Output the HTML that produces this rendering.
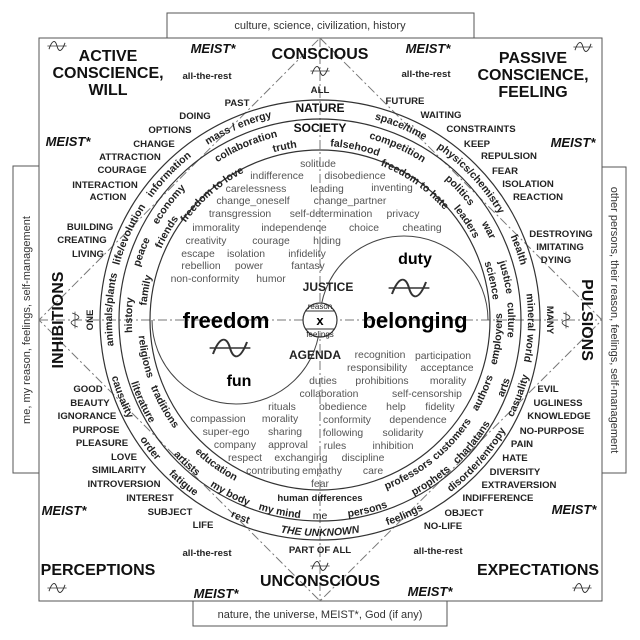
<!DOCTYPE html>
<html><head><meta charset="utf-8"><style>
html,body{margin:0;padding:0;background:#fff}
svg{display:block}
text{font-family:"Liberation Sans",Arial,sans-serif}
.g{font-size:10.4px;fill:#555;text-anchor:middle}
.r{font-size:10.5px;font-weight:bold;fill:#222;text-anchor:middle}
.c{font-size:9.6px;font-weight:bold;fill:#222;text-anchor:middle}
.h{font-size:16px;font-weight:bold;fill:#111;text-anchor:middle}
.m{font-size:13px;font-weight:bold;font-style:italic;fill:#111;text-anchor:middle}
.t{font-size:11px;fill:#333;text-anchor:middle}
.d{stroke:#777;stroke-width:1;stroke-dasharray:9 3 2 3;fill:none}
</style></head><body>
<svg width="640" height="640" viewBox="0 0 640 640" xmlns="http://www.w3.org/2000/svg">
<defs>
<path id="cw208" d="M320 528 A208 208 0 1 1 320 112 A208 208 0 1 1 320 528"/>
<path id="cw188" d="M320 508 A188 188 0 1 1 320 132 A188 188 0 1 1 320 508"/>
<path id="cw174" d="M320 494 A174 174 0 1 1 320 146 A174 174 0 1 1 320 494"/>
<path id="cw166" d="M320 486 A166 166 0 1 1 320 154 A166 166 0 1 1 320 486"/>
<path id="ccw216" d="M320 104 A216 216 0 1 0 320 536 A216 216 0 1 0 320 104"/>
<path id="ccw199" d="M320 121 A199 199 0 1 0 320 519 A199 199 0 1 0 320 121"/>
<path id="ccw182" d="M320 138 A182 182 0 1 0 320 502 A182 182 0 1 0 320 138"/>
<g id="wv"><path d="M-10 4 C-6 -8,-2 -8,0 0 C2 8,6 8,10 -4" fill="none" stroke="#333" stroke-width="1.2"/><line x1="-12" y1="0" x2="12" y2="0" stroke="#333" stroke-width="1"/></g>
</defs>
<rect x="167" y="13" width="307" height="25" fill="#fff" stroke="#555"/>
<rect x="193" y="601" width="254" height="25" fill="#fff" stroke="#555"/>
<rect x="13" y="166" width="26" height="307" fill="#fff" stroke="#555"/>
<rect x="602" y="167" width="24" height="306" fill="#fff" stroke="#555"/>
<rect x="39" y="38" width="563" height="563" fill="#fff" stroke="#555"/>
<text class="t" x="320" y="29">culture, science, civilization, history</text>
<text class="t" x="320" y="618">nature, the universe, MEIST*, God (if any)</text>
<text class="t" transform="translate(30,320) rotate(-90)">me, my reason, feelings, self-management</text>
<text class="t" transform="translate(611,320) rotate(90)">other persons, their reason, feelings, self-management</text>
<path class="d" d="M39 320 H602 M320 38 V601 M320 38 L602 320 L320 601 L39 320 Z"/>
<circle cx="320" cy="320" r="220" fill="none" stroke="#333" stroke-width="1.2"/>
<circle cx="320" cy="320" r="201" fill="none" stroke="#333" stroke-width="1.2"/>
<circle cx="320" cy="320" r="170" fill="none" stroke="#333" stroke-width="1.2"/>
<path d="M320 320 A84 84 0 0 1 488 320" fill="none" stroke="#444" stroke-width="1"/>
<path d="M152 320 A84 84 0 0 0 320 320" fill="none" stroke="#444" stroke-width="1"/>
<circle cx="320" cy="320" r="17" fill="#fff" stroke="#333" stroke-width="1.2"/>
<line x1="305" y1="311" x2="335" y2="311" stroke="#333"/>
<line x1="305" y1="329" x2="335" y2="329" stroke="#333"/>
<text x="320" y="309" style="font-size:8px;fill:#222;text-anchor:middle">reason</text>
<text x="320" y="337" style="font-size:8px;fill:#222;text-anchor:middle">feelings</text>
<text x="320" y="325" style="font-size:13px;font-weight:bold;text-anchor:middle">x</text>
<text class="h" x="108" y="61">ACTIVE</text><text class="h" x="108" y="78">CONSCIENCE,</text><text class="h" x="108" y="95">WILL</text>
<text class="h" x="533" y="63">PASSIVE</text><text class="h" x="533" y="80">CONSCIENCE,</text><text class="h" x="533" y="97">FEELING</text>
<text class="h" x="98" y="575">PERCEPTIONS</text>
<text class="h" x="538" y="575">EXPECTATIONS</text>
<text class="h" x="320" y="59">CONSCIOUS</text>
<text class="h" x="320" y="586">UNCONSCIOUS</text>
<text class="h" transform="translate(63,320) rotate(-90)">INHIBITIONS</text>
<text class="h" transform="translate(582,320) rotate(90)">PULSIONS</text>
<text class="c" transform="translate(93,320) rotate(-90)">ONE</text>
<text class="c" transform="translate(547,320) rotate(90)">MANY</text>
<use href="#wv" transform="translate(57,46) scale(0.8)"/>
<use href="#wv" transform="translate(583,47) scale(0.8)"/>
<use href="#wv" transform="translate(57,588) scale(0.8)"/>
<use href="#wv" transform="translate(582,588) scale(0.8)"/>
<use href="#wv" transform="translate(320,71) scale(0.8)"/>
<use href="#wv" transform="translate(320,566) scale(0.8)"/>
<use href="#wv" transform="translate(75,320) rotate(-90) scale(0.7)"/>
<use href="#wv" transform="translate(566,320) rotate(90) scale(0.7)"/>
<text class="m" x="213" y="53">MEIST*</text><text class="m" x="428" y="53">MEIST*</text>
<text class="m" x="68" y="146">MEIST*</text><text class="m" x="573" y="147">MEIST*</text>
<text class="m" x="64" y="515">MEIST*</text><text class="m" x="574" y="514">MEIST*</text>
<text class="m" x="216" y="598">MEIST*</text><text class="m" x="430" y="596">MEIST*</text>
<text class="c" x="207" y="79">all-the-rest</text><text class="c" x="426" y="77">all-the-rest</text>
<text class="c" x="207" y="556">all-the-rest</text><text class="c" x="438" y="554">all-the-rest</text>
<text class="c" x="320" y="93">ALL</text>
<text class="c" x="320" y="553">PART OF ALL</text>
<text class="h" style="font-size:12px" x="320" y="112">NATURE</text>
<text class="h" style="font-size:12px" x="320" y="132">SOCIETY</text>
<text class="c" x="320" y="501">human differences</text>
<text class="r" style="font-weight:normal" x="320" y="519">me</text>
<g class="c">
<text x="237" y="106">PAST</text><text x="195" y="119">DOING</text><text x="170" y="133">OPTIONS</text>
<text x="154" y="147">CHANGE</text><text x="130" y="160">ATTRACTION</text><text x="122" y="173">COURAGE</text>
<text x="105" y="188">INTERACTION</text><text x="108" y="200">ACTION</text>
<text x="90" y="230">BUILDING</text><text x="82" y="243">CREATING</text><text x="88" y="257">LIVING</text>
<text x="405" y="104">FUTURE</text><text x="441" y="118">WAITING</text><text x="481" y="132">CONSTRAINTS</text>
<text x="477" y="147">KEEP</text><text x="509" y="159">REPULSION</text><text x="505" y="174">FEAR</text>
<text x="528" y="187">ISOLATION</text><text x="538" y="200">REACTION</text>
<text x="561" y="237">DESTROYING</text><text x="560" y="250">IMITATING</text><text x="556" y="263">DYING</text>
<text x="88" y="392">GOOD</text><text x="90" y="406">BEAUTY</text><text x="87" y="419">IGNORANCE</text>
<text x="96" y="433">PURPOSE</text><text x="102" y="446">PLEASURE</text><text x="124" y="460">LOVE</text>
<text x="119" y="473">SIMILARITY</text><text x="124" y="487">INTROVERSION</text><text x="150" y="501">INTEREST</text>
<text x="170" y="515">SUBJECT</text><text x="203" y="528">LIFE</text>
<text x="548" y="392">EVIL</text><text x="558" y="406">UGLINESS</text><text x="559" y="419">KNOWLEDGE</text>
<text x="552" y="434">NO-PURPOSE</text><text x="522" y="447">PAIN</text><text x="515" y="461">HATE</text>
<text x="515" y="475">DIVERSITY</text><text x="519" y="488">EXTRAVERSION</text><text x="498" y="501">INDIFFERENCE</text>
<text x="464" y="516">OBJECT</text><text x="443" y="529">NO-LIFE</text>
</g>
<g class="r">
<text><textPath href="#cw208" startOffset="43.6%">mass / energy</textPath></text>
<text><textPath href="#cw208" startOffset="56.3%">space/time</textPath></text>
<text><textPath href="#cw208" startOffset="63%">physics/chemistry</textPath></text>
<text><textPath href="#cw208" startOffset="69.6%">health</textPath></text>
<text><textPath href="#cw208" startOffset="75.6%">mineral world</textPath></text>
<text><textPath href="#cw208" startOffset="25.8%">animals/plants</textPath></text>
<text><textPath href="#cw208" startOffset="31.7%">life/evolution</textPath></text>
<text><textPath href="#cw208" startOffset="37.2%">information</textPath></text>
<text><textPath href="#cw188" startOffset="43.6%">collaboration</textPath></text>
<text><textPath href="#cw188" startOffset="56.7%">competition</textPath></text>
<text><textPath href="#cw188" startOffset="63.1%">politics</textPath></text>
<text><textPath href="#cw188" startOffset="67.2%">war</textPath></text>
<text><textPath href="#cw188" startOffset="71.4%">justice</textPath></text>
<text><textPath href="#cw188" startOffset="75%">culture</textPath></text>
<text><textPath href="#cw188" startOffset="25.4%">history</textPath></text>
<text><textPath href="#cw188" startOffset="30.8%">peace</textPath></text>
<text><textPath href="#cw188" startOffset="35.4%">economy</textPath></text>
<text><textPath href="#cw174" startOffset="46.8%">truth</textPath></text>
<text><textPath href="#cw174" startOffset="53.2%">falsehood</textPath></text>
<text><textPath href="#cw174" startOffset="65.6%">leaders</textPath></text>
<text><textPath href="#cw174" startOffset="71.4%">science</textPath></text>
<text><textPath href="#cw174" startOffset="33.3%">friends</textPath></text>
<text><textPath href="#cw174" startOffset="27.7%">family</textPath></text>
<text><textPath href="#cw166" startOffset="38.7%">freedom to love</textPath></text>
<text><textPath href="#cw166" startOffset="59.7%">freedom to hate</textPath></text>
<text><textPath href="#ccw216" startOffset="69.2%">casuality</textPath></text>
<text><textPath href="#ccw216" startOffset="63.4%">disorder/entropy</textPath></text>
<text><textPath href="#ccw216" startOffset="56.5%">feelings</textPath></text>
<text style="font-style:italic"><textPath href="#ccw216" startOffset="50%">THE UNKNOWN</textPath></text>
<text><textPath href="#ccw216" startOffset="43.9%">rest</textPath></text>
<text><textPath href="#ccw216" startOffset="38.9%">fatigue</textPath></text>
<text><textPath href="#ccw216" startOffset="35.3%">order</textPath></text>
<text><textPath href="#ccw216" startOffset="30.9%">causality</textPath></text>
<text><textPath href="#ccw199" startOffset="69.4%">arts</textPath></text>
<text><textPath href="#ccw199" startOffset="64.2%">charlatans</textPath></text>
<text><textPath href="#ccw199" startOffset="59.6%">prophets</textPath></text>
<text><textPath href="#ccw199" startOffset="53.9%">persons</textPath></text>
<text><textPath href="#ccw199" startOffset="46.7%">my mind</textPath></text>
<text><textPath href="#ccw199" startOffset="42.4%">my body</textPath></text>
<text><textPath href="#ccw199" startOffset="38.1%">artists</textPath></text>
<text><textPath href="#ccw199" startOffset="31.9%">literature</textPath></text>
<text><textPath href="#ccw182" startOffset="73.3%">employers</textPath></text>
<text><textPath href="#ccw182" startOffset="68.3%">authors</textPath></text>
<text><textPath href="#ccw182" startOffset="63.3%">customers</textPath></text>
<text><textPath href="#ccw182" startOffset="58.3%">professors</textPath></text>
<text><textPath href="#ccw182" startOffset="40.1%">education</textPath></text>
<text><textPath href="#ccw182" startOffset="33.1%">traditions</textPath></text>
<text><textPath href="#ccw182" startOffset="28.3%">religions</textPath></text>
</g>
<g class="g">
<text x="318" y="167">solitude</text>
<text x="277" y="179">indifference</text><text x="355" y="179">disobedience</text>
<text x="256" y="192">carelessness</text><text x="327" y="192">leading</text><text x="392" y="191">inventing</text>
<text x="253" y="204">change_oneself</text><text x="350" y="204">change_partner</text>
<text x="240" y="217">transgression</text><text x="331" y="217">self-determination</text><text x="403" y="217">privacy</text>
<text x="216" y="231">immorality</text><text x="294" y="231">independence</text><text x="364" y="231">choice</text><text x="422" y="231">cheating</text>
<text x="206" y="244">creativity</text><text x="271" y="244">courage</text><text x="327" y="244">hiding</text>
<text x="198" y="257">escape</text><text x="246" y="257">isolation</text><text x="307" y="257">infidelity</text>
<text x="201" y="269">rebellion</text><text x="249" y="269">power</text><text x="308" y="269">fantasy</text>
<text x="205" y="282">non-conformity</text><text x="271" y="282">humor</text>
<text x="380" y="358">recognition</text><text x="443" y="359">participation</text>
<text x="377" y="371">responsibility</text><text x="447" y="371">acceptance</text>
<text x="323" y="384">duties</text><text x="382" y="384">prohibitions</text><text x="448" y="384">morality</text>
<text x="329" y="397">collaboration</text><text x="427" y="397">self-censorship</text>
<text x="282" y="410">rituals</text><text x="343" y="410">obedience</text><text x="396" y="410">help</text><text x="440" y="410">fidelity</text>
<text x="218" y="422">compassion</text><text x="280" y="422">morality</text><text x="347" y="423">conformity</text><text x="418" y="423">dependence</text>
<text x="226" y="435">super-ego</text><text x="285" y="435">sharing</text><text x="343" y="436">following</text><text x="403" y="436">solidarity</text>
<text x="235" y="448">company</text><text x="288" y="448">approval</text><text x="335" y="449">rules</text><text x="393" y="449">inhibition</text>
<text x="245" y="461">respect</text><text x="301" y="461">exchanging</text><text x="363" y="461">discipline</text>
<text x="273" y="474">contributing</text><text x="322" y="474">empathy</text><text x="373" y="474">care</text>
<text x="320" y="487">fear</text>
</g>
<text class="c" style="font-size:12px" x="328" y="291">JUSTICE</text>
<text class="c" style="font-size:12px" x="315" y="359">AGENDA</text>
<text style="font-size:22px;font-weight:bold;text-anchor:middle" x="226" y="328">freedom</text>
<text style="font-size:22px;font-weight:bold;text-anchor:middle" x="415" y="328">belonging</text>
<text style="font-size:16px;font-weight:bold;text-anchor:middle" x="415" y="264">duty</text>
<text style="font-size:16px;font-weight:bold;text-anchor:middle" x="239" y="386">fun</text>
<use href="#wv" transform="translate(230,348) scale(1.7,1.5)"/>
<use href="#wv" transform="translate(409,288) scale(1.7,1.5)"/>
</svg>
</body></html>
